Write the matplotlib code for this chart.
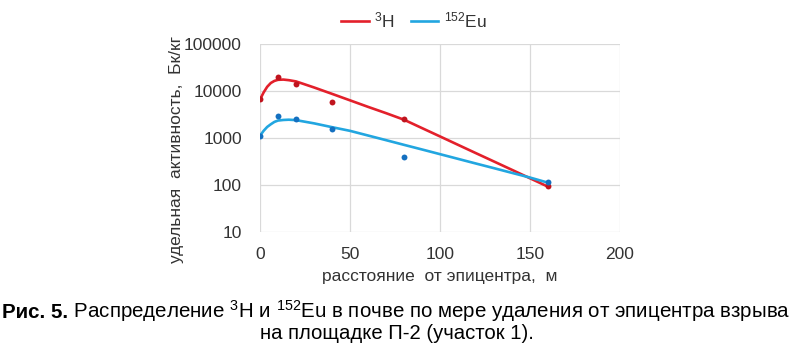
import numpy as np
import matplotlib
matplotlib.use('Agg')
import matplotlib.pyplot as plt
from matplotlib.lines import Line2D
from matplotlib.ticker import FixedLocator, FixedFormatter, NullLocator

plt.rcParams['font.family'] = ['Liberation Sans', 'DejaVu Sans']
plt.rcParams['mathtext.fontset'] = 'custom'
plt.rcParams['mathtext.rm'] = 'Liberation Sans'
plt.rcParams['mathtext.default'] = 'regular'

# measured points
dist = [0, 10, 20, 40, 80, 160]
h3 = [6700, 19500, 13800, 5700, 2500, 95]
eu152 = [1130, 2900, 2500, 1520, 390, 115]

# smoothed trend curves
curveX = [0, 2, 4, 6, 8, 10, 13, 16, 20, 30, 40, 50, 60, 70, 80, 90, 100,
          110, 120, 130, 140, 150, 160]
h3Curve = [6560, 9300, 12300, 14800, 16400, 17300, 17500, 17000, 16000,
           11900, 8700, 6330, 4600, 3380, 2450, 1625, 1080,
           716, 475, 316, 210, 139, 92]
euCurve = [1115, 1420, 1720, 1960, 2200, 2350, 2420, 2450, 2400,
           2050, 1700, 1420, 1130, 900, 715, 570, 453,
           360, 286, 228, 181, 144, 112]

yTicks = [10, 100, 1000, 10000, 100000]
xTicks = [0, 50, 100, 150, 200]

redLine = '#E3202B'
blueLine = '#22A6E0'
redDot = '#C0141E'
blueDot = '#1470C0'
txt = '#333333'

W, H = 793, 347
fig = plt.figure(figsize=[W / 100, H / 100], dpi=100)
ax = fig.add_axes([260 / W, 1 - 232 / H, 360 / W, 188 / H])

ax.plot(curveX, h3Curve, color=redLine, lw=1.9, solid_capstyle='round',
        solid_joinstyle='round', zorder=3)
ax.plot(curveX, euCurve, color=blueLine, lw=1.9, solid_capstyle='round',
        solid_joinstyle='round', zorder=3)
ax.scatter(dist, h3, s=18, color=redDot, zorder=4, linewidths=0)
ax.scatter(dist, eu152, s=18, color=blueDot, zorder=4, linewidths=0)

ax.set_yscale('log')
ax.set_ylim(10, 100000)
ax.set_xlim(0, 200)
ax.yaxis.set_major_locator(FixedLocator(yTicks))
ax.yaxis.set_major_formatter(FixedFormatter([str(v) for v in yTicks]))
ax.yaxis.set_minor_locator(NullLocator())
ax.set_xticks(xTicks)
ax.set_xticklabels([str(v) for v in xTicks])
ax.tick_params(length=0, labelsize=12.5, labelcolor=txt)
ax.tick_params(axis='y', pad=13)
ax.tick_params(axis='x', pad=11)
ax.grid(True, color='#d9d9d9', lw=0.9)
ax.set_axisbelow(True)
for s in ax.spines.values():
    s.set_visible(False)
ax.patch.set_visible(False)

fig.text(440 / W, 1 - 276 / H, 'расстояние  от эпицентра,  м', ha='center', va='center',
         fontsize=12.5, color=txt)
fig.text(176 / W, 1 - 149 / H, 'удельная  активность,  Бк/кг', ha='center', va='center',
         rotation=90, fontsize=12.5, color=txt)

handles = [Line2D([], [], color=redLine, lw=1.9), Line2D([], [], color=blueLine, lw=1.9)]
fig.legend(handles, ['$^{3}$H', '$^{152}$Eu'], loc='center', ncol=2,
           bbox_to_anchor=(414 / W, 1 - 20 / H), frameon=False, fontsize=12.5,
           handlelength=1.6, handletextpad=0.3, columnspacing=0.9, labelcolor=txt)

# caption
fig.canvas.draw()
rend = fig.canvas.get_renderer()
capY = 1 - 318 / H
t1 = fig.text(0, capY, 'Рис. 5.', fontsize=14.8, fontweight='bold', va='baseline')
t2 = fig.text(0, capY, ' Распределение $^{3}$H и $^{152}$Eu в почве по мере удаления от эпицентра взрыва',
              fontsize=14.8, va='baseline')
w1 = t1.get_window_extent(rend).width
w2 = t2.get_window_extent(rend).width
x0 = (W - (w1 + w2)) / 2
t1.set_x(x0 / W)
t2.set_x((x0 + w1) / W)
fig.text(0.5, 1 - 339 / H, 'на площадке П-2 (участок 1).', fontsize=14.6, ha='center', va='baseline')

plt.savefig('out.png', dpi=100)
